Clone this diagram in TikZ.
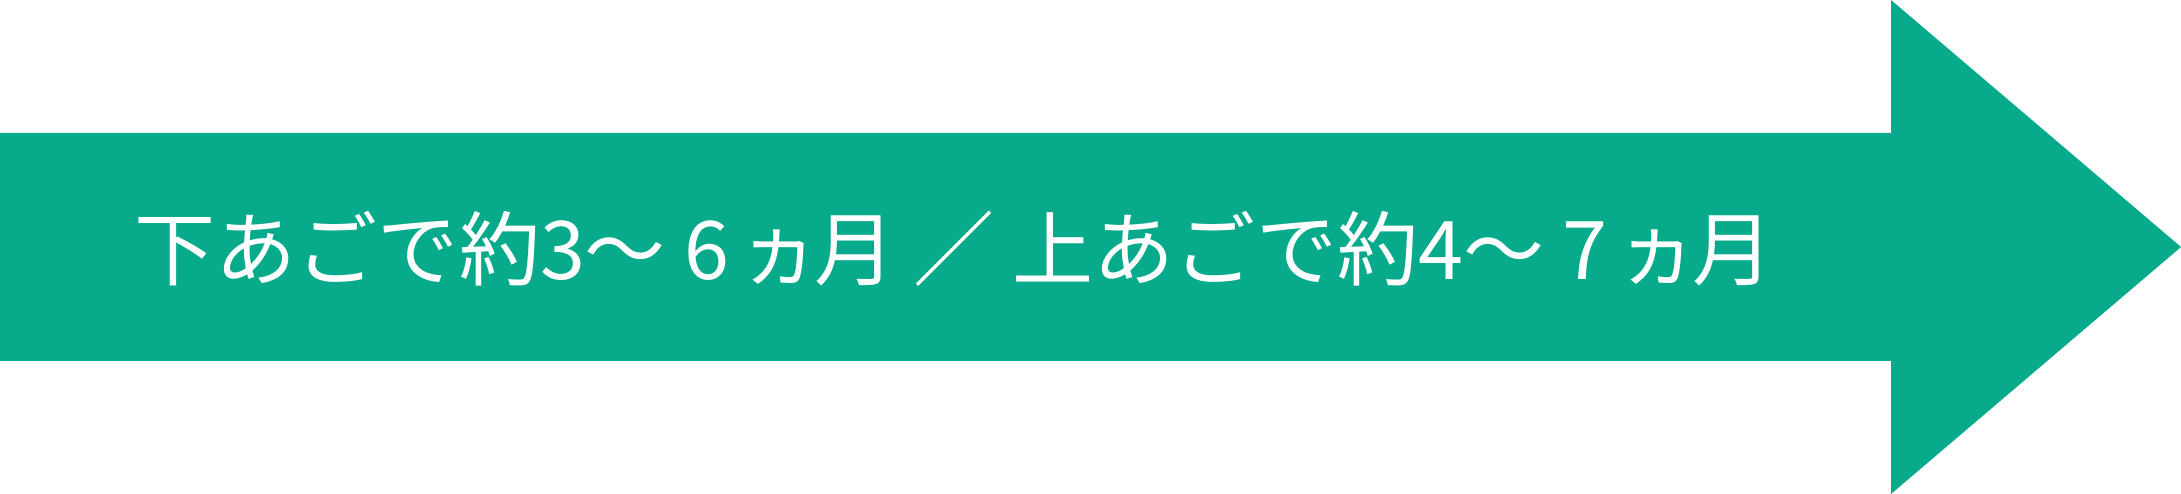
\documentclass[tikz,border=0pt]{standalone}
\usepackage{fontspec}
\newfontfamily\jpfont{Noto Sans CJK JP}
\definecolor{arrowgreen}{HTML}{07AA8A}
\tikzset{
  arrowfill/.style={fill=arrowgreen, draw=none},
  labeltext/.style={text=white, font=\jpfont\fontsize{81pt}{81pt}\selectfont, inner sep=0pt, anchor=base west}
}
\begin{document}
\begin{tikzpicture}[x=1pt,y=1pt]
\useasboundingbox (0,0) rectangle (2181,494);
\fill[arrowfill] (0,133) -- (1891,133) -- (1891,0) -- (2181,247) -- (1891,494) -- (1891,361) -- (0,361) -- cycle;
\node[labeltext] (label) at (134,214) {下あごで約3～ 6\kern10ptヵ\kern-6pt月 ／ 上あごで約4～ 7\kern10ptヵ\kern-6pt月};
\end{tikzpicture}
\end{document}
